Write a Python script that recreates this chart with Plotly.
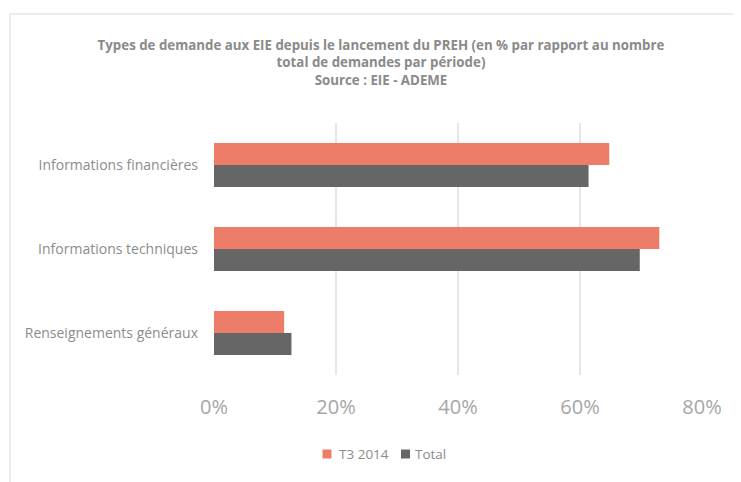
import plotly.graph_objects as go

categories = ["Informations financières", "Informations techniques", "Renseignements généraux"]
series_names = ["T3 2014", "Total"]
t3_2014 = [0.648, 0.730, 0.115]
total = [0.614, 0.698, 0.127]
x_ticks = [0, 0.2, 0.4, 0.6, 0.8]
x_tick_labels = ["0%", "20%", "40%", "60%", "80%"]
colors = ["#ED7D69", "#666666"]

W, H = 741, 482
OFF = 8  # page body margin
L, R, T, B = 214 - OFF, 702 - OFF, 123 - OFF, 375 - OFF

def px(x):
    return (x - OFF - L) / (R - L)

def py(y):
    return (B - (y - OFF)) / (B - T)

fig = go.Figure()
fig.add_trace(go.Bar(name=series_names[0], y=categories, x=t3_2014, orientation="h",
                     marker=dict(color=colors[0], line=dict(width=0))))
fig.add_trace(go.Bar(name=series_names[1], y=categories, x=total, orientation="h",
                     marker=dict(color=colors[1], line=dict(width=0))))

shapes = [
    dict(type="line", xref="paper", yref="paper", x0=px(10), x1=px(10), y0=py(14), y1=py(500),
         line=dict(color="#e6e6e6", width=1.5)),
    dict(type="line", xref="paper", yref="paper", x0=px(10), x1=px(760), y0=py(14), y1=py(14),
         line=dict(color="#e6e6e6", width=1.5)),
]
annotations = []
legend_items = [(322.5, 337), (401, 412.5)]
for (sx, tx), name, c in zip(legend_items, series_names, colors):
    shapes.append(dict(type="rect", xref="paper", yref="paper", x0=px(sx), x1=px(sx + 9),
                       y0=py(458.5), y1=py(449.5), fillcolor=c, line=dict(width=0)))
    annotations.append(dict(text=name, xref="paper", yref="paper", x=px(tx), y=py(453.5),
                            xanchor="left", yanchor="middle", showarrow=False,
                            font=dict(size=13.5, color="#8c8c8c", family="Open Sans, sans-serif")))

fig.update_layout(
    width=W, height=H,
    margin=dict(l=L, r=W - R, t=T, b=H - B),
    paper_bgcolor="white", plot_bgcolor="white",
    barmode="group", bargap=0.476, bargroupgap=0,
    font=dict(family="Open Sans, sans-serif", color="#8c8c8c"),
    title=dict(
        text="<b>Types de demande aux EIE depuis le lancement du PREH (en % par rapport au nombre<br>total de demandes par période)<br>Source : EIE - ADEME</b>",
        x=(381 - OFF) / W, xanchor="center", xref="container",
        y=1 - (50 - OFF) / H, yanchor="top", yref="container",
        font=dict(size=13.3, color="#8a8a8a", family="Open Sans, sans-serif"),
    ),
    xaxis=dict(range=[0, 0.8], tickvals=x_ticks, ticktext=x_tick_labels,
               showgrid=True, gridcolor="#e6e6e6", gridwidth=2, zeroline=False,
               showline=False, tickfont=dict(size=20, color="#a6a6a6"),
               ticklabelstandoff=18, fixedrange=True),
    yaxis=dict(categoryorder="array", categoryarray=categories, autorange="reversed",
               showgrid=False, zeroline=False, showline=False,
               tickfont=dict(size=14, color="#8c8c8c"), ticklabelstandoff=15),
    showlegend=False,
    shapes=shapes,
    annotations=annotations,
)

fig.write_html("out.html")
